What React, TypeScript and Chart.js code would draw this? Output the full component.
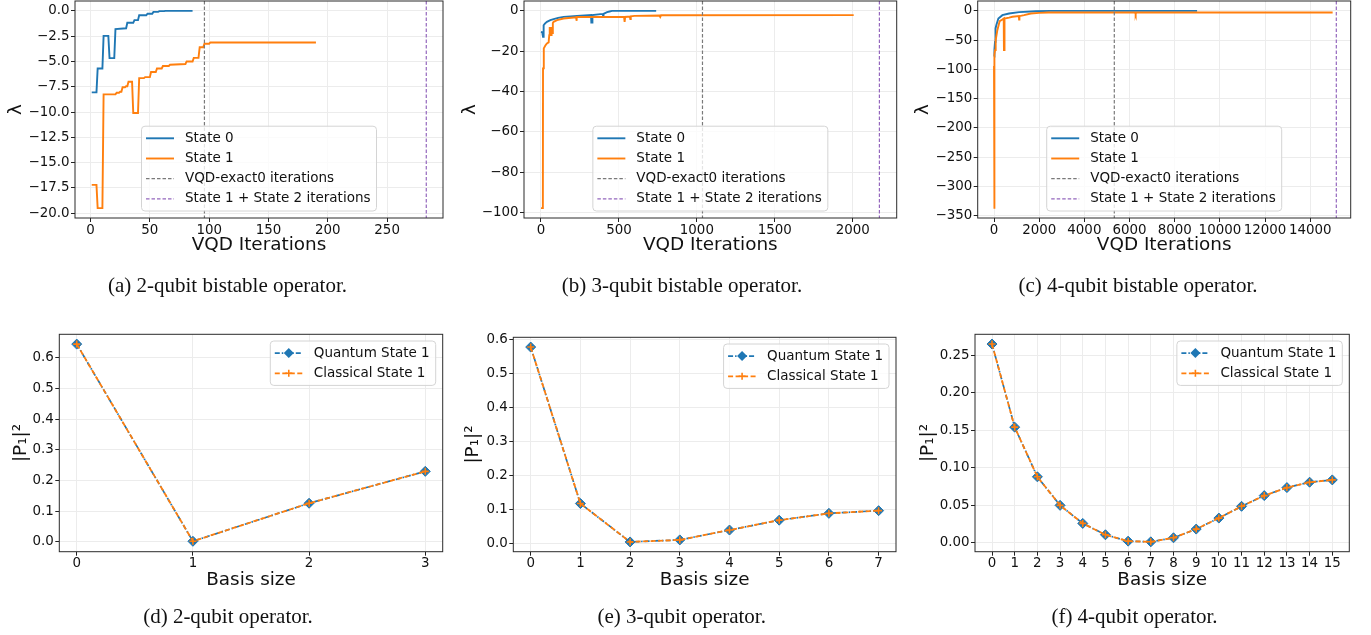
import React, { useEffect, useRef } from "react";
import { Chart, registerables } from "chart.js";

Chart.register(...registerables);

const PAGE_W = 1371;
const PAGE_H = 635;

const BLUE = "#1f77b4";
const ORANGE = "#ff7f0e";
const GRAY = "#7a7a7a";
const PURPLE = "#9467bd";
const GRID = "#ececec";
const FONT = "'DejaVu Sans', 'Noto Sans', sans-serif";
const TICK_FS = 13.4;
const TITLE_FS = 18.4;
const LEGEND_FS = 13.5;

// ---------------- (a) 2-qubit bistable operator ----------------
const aState0Iter = [1, 5, 6, 10, 11, 15, 16, 20, 21, 30, 31, 36, 37, 40, 41, 47, 48, 52, 53, 57, 58, 62, 63, 86];
const aState0Val = [-8.06, -8.06, -5.69, -5.69, -2.47, -2.47, -4.67, -4.67, -1.8, -1.72, -1.18, -1.18, -0.92, -0.92, -0.43, -0.43, -0.28, -0.28, -0.1, -0.1, -0.03, -0.03, 0.0, 0.0];
const aState1Iter = [1, 5, 6, 10, 11, 21, 22, 24, 25, 26, 27, 29, 30, 31, 32, 35, 36, 40, 41, 45, 46, 50, 51, 55, 56, 60, 61, 66, 67, 80, 81, 86, 87, 91, 92, 95, 96, 100, 101, 190];
const aState1Val = [-17.2, -17.2, -19.5, -19.5, -8.25, -8.25, -8.1, -8.1, -8.0, -8.0, -7.55, -7.55, -7.45, -7.45, -7.0, -7.0, -10.1, -10.1, -6.65, -6.65, -6.55, -6.55, -6.05, -6.05, -5.7, -5.7, -5.45, -5.45, -5.32, -5.25, -5.0, -5.0, -4.65, -4.65, -3.6, -3.6, -3.25, -3.25, -3.12, -3.12];
const aExactIterations = 96;
const aTotalIterations = 283;
const aXTicks = [0, 50, 100, 150, 200, 250];
const aYTicks = [0, -2.5, -5, -7.5, -10, -12.5, -15, -17.5, -20];

// ---------------- (b) 3-qubit bistable operator ----------------
const bState0Iter = [0, 8, 13, 17, 25, 38, 60, 81, 110, 145, 190, 231, 280, 321, 323, 328, 330, 381, 396, 398, 401, 424, 440, 456, 739];
const bState0Val = [-10.4, -10.6, -12.9, -7.1, -6.3, -5.4, -4.6, -4.1, -3.5, -2.95, -2.7, -2.5, -2.3, -2.1, -5.8, -5.8, -2.1, -1.6, -1.5, -2.2, -1.5, -0.65, -0.3, 0, 0];
const bState1Iter = [0, 12, 13, 17, 19, 28, 38, 49, 53, 56, 59, 62, 65, 68, 71, 76, 81, 103, 145, 210, 225, 227, 229, 231, 533, 535, 538, 540, 570, 573, 576, 600, 760, 765, 770, 2006];
const bState1Val = [-97.8, -97.8, -28.5, -28.5, -18.6, -17.2, -16.1, -15.6, -12, -8, -12, -8.5, -12, -8, -11, -6, -5.4, -4.6, -3.8, -3.3, -3.3, -4.9, -4.9, -3.0, -3.0, -5.4, -5.4, -3.0, -2.8, -4.1, -2.7, -2.5, -2.3, -3.0, -2.2, -2.1];
const bExactIterations = 1036;
const bTotalIterations = 2171;
const bXTicks = [0, 500, 1000, 1500, 2000];
const bYTicks = [0, -20, -40, -60, -80, -100];

// ---------------- (c) 4-qubit bistable operator ----------------
const cState0Iter = [0, 10, 15, 30, 44, 60, 74, 104, 193, 370, 667, 1111, 1852, 2500, 8990];
const cState0Val = [-78, -76, -72, -66, -53, -45, -30, -24, -13, -7.3, -4.5, -2.2, -0.5, 0, 0];
const cState1Iter = [0, 8, 16, 30, 44, 74, 148, 252, 370, 430, 440, 455, 465, 667, 815, 1100, 1111, 1125, 1333, 1630, 2000, 2400, 6250, 6270, 6290, 14990];
const cState1Val = [-94, -338, -85, -75, -67, -50, -33, -17.5, -14.7, -13, -67, -67, -13, -11.6, -10, -9, -14.7, -9, -7.3, -4.5, -3.4, -2.8, -2.8, -5.6, -2.8, -2.8];
const cExactIterations = 5325;
const cTotalIterations = 15153;
const cXTicks = [0, 2000, 4000, 6000, 8000, 10000, 12000, 14000];
const cYTicks = [0, -50, -100, -150, -200, -250, -300, -350];

// ---------------- (d) 2-qubit operator ----------------
const dBasis = [0, 1, 2, 3];
const dQuantum = [0.645, 0.002, 0.126, 0.230];
const dClassical = [0.645, 0.002, 0.126, 0.230];
const dXTicks = [0, 1, 2, 3];
const dYTicks = [0, 0.1, 0.2, 0.3, 0.4, 0.5, 0.6];

// ---------------- (e) 3-qubit operator ----------------
const eBasis = [0, 1, 2, 3, 4, 5, 6, 7];
const eQuantum = [0.578, 0.118, 0.005, 0.011, 0.040, 0.069, 0.089, 0.097];
const eClassical = [0.578, 0.118, 0.005, 0.011, 0.040, 0.069, 0.089, 0.097];
const eXTicks = [0, 1, 2, 3, 4, 5, 6, 7];
const eYTicks = [0, 0.1, 0.2, 0.3, 0.4, 0.5, 0.6];

// ---------------- (f) 4-qubit operator ----------------
const fBasis = [0, 1, 2, 3, 4, 5, 6, 7, 8, 9, 10, 11, 12, 13, 14, 15];
const fQuantum = [0.265, 0.154, 0.0877, 0.0496, 0.0255, 0.0103, 0.0018, 0.0009, 0.0063, 0.0179, 0.0326, 0.0483, 0.0626, 0.0733, 0.0805, 0.0836];
const fClassical = [0.265, 0.154, 0.0877, 0.0496, 0.0255, 0.0103, 0.0018, 0.0009, 0.0063, 0.0179, 0.0326, 0.0483, 0.0626, 0.0733, 0.0805, 0.0836];
const fXTicks = [0, 1, 2, 3, 4, 5, 6, 7, 8, 9, 10, 11, 12, 13, 14, 15];
const fYTicks = [0, 0.05, 0.1, 0.15, 0.2, 0.25];

// ---------------- labels ----------------
const topLegendLabels = ["State 0", "State 1", "VQD-exact0 iterations", "State 1 + State 2 iterations"];
const bottomLegendLabels = ["Quantum State 1", "Classical State 1"];
const captions = [
  "(a) 2-qubit bistable operator.",
  "(b) 3-qubit bistable operator.",
  "(c) 4-qubit bistable operator.",
  "(d) 2-qubit operator.",
  "(e) 3-qubit operator.",
  "(f) 4-qubit operator.",
];

// ---------------- helpers ----------------
type Entry = { label: string; color: string; dash: number[]; width: number; marker?: "diamond" | "plus" };
type VLine = { value: number; color: string; dash: number[] };

function pts(xs: number[], ys: number[]) {
  return xs.map((x, i) => ({ x, y: ys[i] }));
}

function fmt(v: number, d: number) {
  const s = Math.abs(v).toFixed(d);
  return (v < -1e-9 ? "\u2212" : "") + s;
}

function lineDs(label: string, xs: number[], ys: number[], color: string, order: number) {
  return {
    label,
    data: pts(xs, ys),
    borderColor: color,
    backgroundColor: color,
    borderWidth: 1.9,
    pointRadius: 0,
    fill: false,
    tension: 0,
    order,
  };
}

function quantumDs(xs: number[], ys: number[]) {
  return {
    label: bottomLegendLabels[0],
    data: pts(xs, ys),
    borderColor: BLUE,
    backgroundColor: BLUE,
    borderWidth: 1.7,
    borderDash: [5, 2, 1.5, 2],
    pointStyle: "rectRot",
    pointRadius: 5,
    pointBackgroundColor: BLUE,
    pointBorderColor: BLUE,
    pointBorderWidth: 1,
    fill: false,
    tension: 0,
    order: 2,
  };
}

function classicalDs(xs: number[], ys: number[]) {
  return {
    label: bottomLegendLabels[1],
    data: pts(xs, ys),
    borderColor: ORANGE,
    backgroundColor: ORANGE,
    borderWidth: 1.8,
    borderDash: [5, 2.5],
    pointStyle: "cross",
    pointRadius: 3.5,
    pointBorderColor: ORANGE,
    pointBorderWidth: 1.6,
    fill: false,
    tension: 0,
    order: 1,
  };
}

const topEntries: Entry[] = [
  { label: topLegendLabels[0], color: BLUE, dash: [], width: 1.9 },
  { label: topLegendLabels[1], color: ORANGE, dash: [], width: 1.9 },
  { label: topLegendLabels[2], color: GRAY, dash: [3.5, 2], width: 1.2 },
  { label: topLegendLabels[3], color: PURPLE, dash: [3.5, 2], width: 1.2 },
];
const bottomEntries: Entry[] = [
  { label: bottomLegendLabels[0], color: BLUE, dash: [5, 2, 1.5, 2], width: 1.7, marker: "diamond" },
  { label: bottomLegendLabels[1], color: ORANGE, dash: [5, 2.5], width: 1.7, marker: "plus" },
];

type Panel = {
  id: string;
  L: number; R: number; T: number; B: number;
  yTitleX: number; xTitleY: number;
  xMin: number; xMax: number; yMin: number; yMax: number;
  xTicks: number[]; yTicks: number[]; xDec: number; yDec: number;
  xTitle: string; yTitle: string;
  datasets: any[];
  vlines: VLine[];
  legendLoc: "lower center" | "upper right";
  entries: Entry[];
};

const vDash = [3.5, 2];

const panels: Panel[] = [
  {
    id: "a", L: 75, R: 443, T: 1, B: 218, yTitleX: 15.8, xTitleY: 245.5,
    xMin: -13.1, xMax: 297.1, yMin: -20.475, yMax: 0.975,
    xTicks: aXTicks, yTicks: aYTicks, xDec: 0, yDec: 1,
    xTitle: "VQD Iterations", yTitle: "\u03bb",
    datasets: [
      lineDs(topLegendLabels[0], aState0Iter, aState0Val, BLUE, 2),
      lineDs(topLegendLabels[1], aState1Iter, aState1Val, ORANGE, 1),
    ],
    vlines: [
      { value: aExactIterations, color: GRAY, dash: vDash },
      { value: aTotalIterations, color: PURPLE, dash: vDash },
    ],
    legendLoc: "lower center", entries: topEntries,
  },
  {
    id: "b", L: 524, R: 896.7, T: 1, B: 218, yTitleX: 470, xTitleY: 245.5,
    xMin: -109, xMax: 2282, yMin: -102.7, yMax: 4.9,
    xTicks: bXTicks, yTicks: bYTicks, xDec: 0, yDec: 0,
    xTitle: "VQD Iterations", yTitle: "\u03bb",
    datasets: [
      lineDs(topLegendLabels[0], bState0Iter, bState0Val, BLUE, 2),
      lineDs(topLegendLabels[1], bState1Iter, bState1Val, ORANGE, 1),
    ],
    vlines: [
      { value: bExactIterations, color: GRAY, dash: vDash },
      { value: bTotalIterations, color: PURPLE, dash: vDash },
    ],
    legendLoc: "lower center", entries: topEntries,
  },
  {
    id: "c", L: 977.7, R: 1350.7, T: 1, B: 218, yTitleX: 923.7, xTitleY: 245.5,
    xMin: -722, xMax: 15790, yMin: -354, yMax: 16.9,
    xTicks: cXTicks, yTicks: cYTicks, xDec: 0, yDec: 0,
    xTitle: "VQD Iterations", yTitle: "\u03bb",
    datasets: [
      lineDs(topLegendLabels[0], cState0Iter, cState0Val, BLUE, 2),
      lineDs(topLegendLabels[1], cState1Iter, cState1Val, ORANGE, 1),
    ],
    vlines: [
      { value: cExactIterations, color: GRAY, dash: vDash },
      { value: cTotalIterations, color: PURPLE, dash: vDash },
    ],
    legendLoc: "lower center", entries: topEntries,
  },
  {
    id: "d", L: 59.3, R: 442.7, T: 334.3, B: 551.7, yTitleX: 21, xTitleY: 580,
    xMin: -0.15, xMax: 3.15, yMin: -0.032, yMax: 0.677,
    xTicks: dXTicks, yTicks: dYTicks, xDec: 0, yDec: 1,
    xTitle: "Basis size", yTitle: "|P\u2081|\u00b2",
    datasets: [quantumDs(dBasis, dQuantum), classicalDs(dBasis, dClassical)],
    vlines: [], legendLoc: "upper right", entries: bottomEntries,
  },
  {
    id: "e", L: 513.3, R: 896, T: 337.3, B: 551.7, yTitleX: 473.3, xTitleY: 580,
    xMin: -0.35, xMax: 7.35, yMin: -0.0237, yMax: 0.6067,
    xTicks: eXTicks, yTicks: eYTicks, xDec: 0, yDec: 1,
    xTitle: "Basis size", yTitle: "|P\u2081|\u00b2",
    datasets: [quantumDs(eBasis, eQuantum), classicalDs(eBasis, eClassical)],
    vlines: [], legendLoc: "upper right", entries: bottomEntries,
  },
  {
    id: "f", L: 975, R: 1349.3, T: 334.3, B: 551.7, yTitleX: 928.3, xTitleY: 580,
    xMin: -0.75, xMax: 15.75, yMin: -0.0123, yMax: 0.278,
    xTicks: fXTicks, yTicks: fYTicks, xDec: 0, yDec: 2,
    xTitle: "Basis size", yTitle: "|P\u2081|\u00b2",
    datasets: [quantumDs(fBasis, fQuantum), classicalDs(fBasis, fClassical)],
    vlines: [], legendLoc: "upper right", entries: bottomEntries,
  },
];

const captionPos = [
  { x: 227.5, y: 287 },
  { x: 682, y: 287 },
  { x: 1138, y: 287 },
  { x: 228, y: 618 },
  { x: 681.7, y: 618 },
  { x: 1134.5, y: 618 },
];

function drawLegend(ctx: CanvasRenderingContext2D, ca: any, loc: string, entries: Entry[]) {
  ctx.save();
  ctx.font = `${LEGEND_FS}px ${FONT}`;
  const textW = Math.max(...entries.map((e) => ctx.measureText(e.label).width));
  const padX = 4.5, handleLen = 28, gap = 11, rowH = 20.2, padY = 2, padR = 6;
  const w = padX + handleLen + gap + textW + padR;
  const h = entries.length * rowH + 2 * padY;
  let x: number, y: number;
  if (loc === "lower center") {
    x = (ca.left + ca.right) / 2 - w / 2;
    y = ca.bottom - 7 - h;
  } else {
    x = ca.right - 7 - w;
    y = ca.top + 6.7;
  }
  ctx.beginPath();
  (ctx as any).roundRect(x, y, w, h, 3.5);
  ctx.fillStyle = "rgba(255,255,255,0.8)";
  ctx.fill();
  ctx.strokeStyle = "#d4d4d4";
  ctx.lineWidth = 1;
  ctx.stroke();
  entries.forEach((e, i) => {
    const cy = y + padY + rowH * (i + 0.5);
    const x0 = x + padX;
    const x1 = x0 + handleLen;
    ctx.beginPath();
    ctx.setLineDash(e.dash);
    ctx.strokeStyle = e.color;
    ctx.lineWidth = e.width;
    ctx.moveTo(x0, cy);
    ctx.lineTo(x1, cy);
    ctx.stroke();
    ctx.setLineDash([]);
    const mx = (x0 + x1) / 2;
    if (e.marker === "diamond") {
      const r = 5;
      ctx.beginPath();
      ctx.moveTo(mx - r, cy);
      ctx.lineTo(mx, cy - r);
      ctx.lineTo(mx + r, cy);
      ctx.lineTo(mx, cy + r);
      ctx.closePath();
      ctx.fillStyle = e.color;
      ctx.fill();
    } else if (e.marker === "plus") {
      const r = 3.5;
      ctx.beginPath();
      ctx.lineWidth = 1.6;
      ctx.moveTo(mx - r, cy);
      ctx.lineTo(mx + r, cy);
      ctx.moveTo(mx, cy - r);
      ctx.lineTo(mx, cy + r);
      ctx.stroke();
    }
    ctx.fillStyle = "#111";
    ctx.textBaseline = "middle";
    ctx.textAlign = "left";
    ctx.fillText(e.label, x1 + gap, cy);
  });
  ctx.restore();
}

function decoPlugin(p: Panel) {
  return {
    id: "deco-" + p.id,
    afterDatasetsDraw(chart: any) {
      const { ctx, chartArea: ca, scales } = chart;
      ctx.save();
      ctx.beginPath();
      ctx.rect(ca.left, ca.top, ca.right - ca.left, ca.bottom - ca.top);
      ctx.clip();
      for (const v of p.vlines) {
        const px = scales.x.getPixelForValue(v.value);
        ctx.beginPath();
        ctx.setLineDash(v.dash);
        ctx.strokeStyle = v.color;
        ctx.lineWidth = 1.2;
        ctx.moveTo(px, ca.top);
        ctx.lineTo(px, ca.bottom);
        ctx.stroke();
      }
      ctx.restore();
      ctx.save();
      ctx.strokeStyle = "#2b2b2b";
      ctx.lineWidth = 1;
      ctx.strokeRect(ca.left, ca.top, ca.right - ca.left, ca.bottom - ca.top);
      ctx.restore();
      drawLegend(ctx, ca, p.legendLoc, p.entries);
    },
  };
}

function buildConfig(p: Panel): any {
  const padLeft = p.yTitleX - 0.6 * TITLE_FS;
  const xH = p.xTitleY - p.B + 0.6 * TITLE_FS;
  const yW = p.L - padLeft;
  const gridCfg = { color: GRID, lineWidth: 1, drawTicks: true, tickLength: 4, tickColor: "#222", tickWidth: 1 };
  return {
    type: "line",
    data: { datasets: p.datasets },
    options: {
      animation: false,
      responsive: false,
      devicePixelRatio: 1,
      events: [],
      layout: { padding: { left: padLeft, top: p.T, right: PAGE_W - p.R, bottom: PAGE_H - p.B - xH } },
      plugins: { legend: { display: false }, tooltip: { enabled: false }, title: { display: false } },
      scales: {
        x: {
          type: "linear",
          position: "bottom",
          min: p.xMin,
          max: p.xMax,
          bounds: "data",
          grid: gridCfg,
          border: { display: false },
          ticks: {
            font: { family: FONT, size: TICK_FS },
            color: "#111",
            padding: 0,
            maxRotation: 0,
            minRotation: 0,
            autoSkip: false,
            callback: (v: any) => fmt(Number(v), p.xDec),
          },
          title: { display: true, text: p.xTitle, font: { family: FONT, size: TITLE_FS }, color: "#111", padding: 0 },
          afterBuildTicks: (s: any) => {
            s.ticks = p.xTicks.map((v) => ({ value: v }));
          },
          afterFit: (s: any) => {
            s.height = xH;
            s.paddingLeft = 0;
            s.paddingRight = 0;
            s.paddingTop = 0;
            s.paddingBottom = 0;
          },
        },
        y: {
          type: "linear",
          position: "left",
          min: p.yMin,
          max: p.yMax,
          bounds: "data",
          grid: gridCfg,
          border: { display: false },
          ticks: {
            font: { family: FONT, size: TICK_FS },
            color: "#111",
            padding: 1.5,
            autoSkip: false,
            callback: (v: any) => fmt(Number(v), p.yDec),
          },
          title: { display: true, text: p.yTitle, font: { family: FONT, size: TITLE_FS }, color: "#111", padding: 0 },
          afterBuildTicks: (s: any) => {
            s.ticks = p.yTicks.map((v) => ({ value: v }));
          },
          afterFit: (s: any) => {
            s.width = yW;
            s.paddingLeft = 0;
            s.paddingRight = 0;
            s.paddingTop = 0;
            s.paddingBottom = 0;
          },
        },
      },
    },
    plugins: [decoPlugin(p)],
  };
}

function PanelChart({ panel }: { panel: Panel }) {
  const ref = useRef<HTMLCanvasElement>(null);
  useEffect(() => {
    const chart = new Chart(ref.current as HTMLCanvasElement, buildConfig(panel));
    return () => chart.destroy();
  }, [panel]);
  return (
    <canvas
      ref={ref}
      width={PAGE_W}
      height={PAGE_H}
      style={{ position: "absolute", left: 0, top: 0, width: PAGE_W, height: PAGE_H }}
    />
  );
}

export default function App() {
  return (
    <div
      style={{
        position: "fixed",
        left: 0,
        top: 0,
        width: PAGE_W,
        height: PAGE_H,
        background: "#ffffff",
        overflow: "hidden",
      }}
    >
      {panels.map((p) => (
        <PanelChart key={p.id} panel={p} />
      ))}
      {captions.map((c, i) => (
        <div
          key={c}
          style={{
            position: "absolute",
            left: captionPos[i].x - 250,
            top: captionPos[i].y - 14.3,
            width: 500,
            textAlign: "center",
            fontFamily: "'Liberation Serif', 'Times New Roman', serif",
            fontSize: 21,
            lineHeight: "24px",
            color: "#111",
            whiteSpace: "nowrap",
          }}
        >
          {c}
        </div>
      ))}
    </div>
  );
}
